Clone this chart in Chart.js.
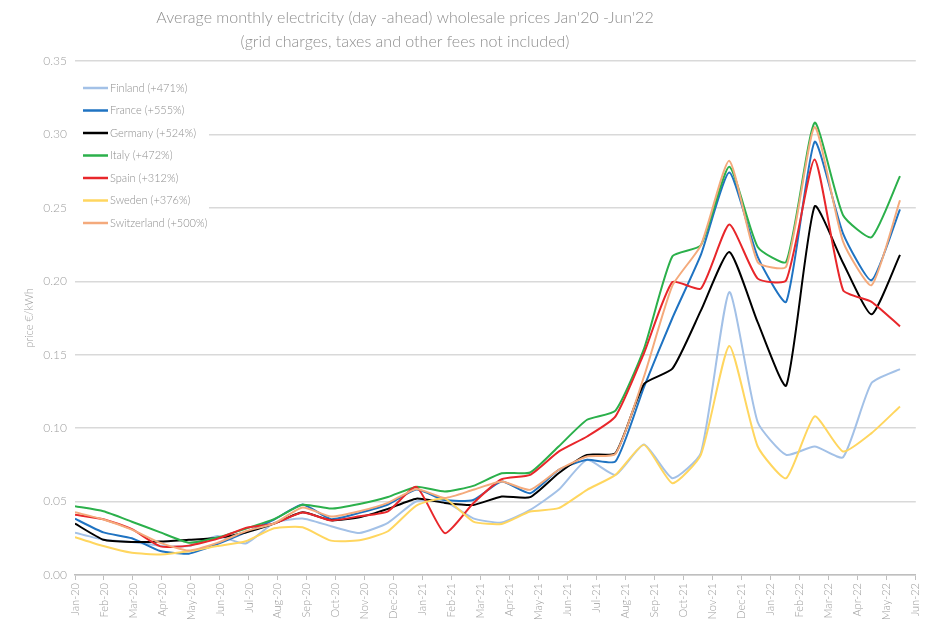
<!DOCTYPE html>
<html><head><meta charset="utf-8">
<script src="https://cdn.jsdelivr.net/npm/chart.js@4/dist/chart.umd.min.js"></script>
<style>html,body{margin:0;padding:0;background:#fff;}#wrap{width:932px;height:619px;}</style>
</head><body><div id="wrap"><canvas id="c" width="932" height="619"></canvas></div>
<script>
const monthLabels = ['Jan-20','Feb-20','Mar-20','Apr-20','May-20','Jun-20','Jul-20','Aug-20','Sep-20','Oct-20','Nov-20','Dec-20','Jan-21','Feb-21','Mar-21','Apr-21','May-21','Jun-21','Jul-21','Aug-21','Sep-21','Oct-21','Nov-21','Dec-21','Jan-22','Feb-22','Mar-22','Apr-22','May-22','Jun-22'];
const seriesNames = ['Finland (+471%)','France (+555%)','Germany (+524%)','Italy (+472%)','Spain (+312%)','Sweden (+376%)','Switzerland (+500%)'];
const finland = [0.0288,0.0240,0.0225,0.0200,0.0197,0.0265,0.0215,0.0355,0.0385,0.0332,0.0286,0.0355,0.0502,0.0500,0.0386,0.0357,0.0443,0.0580,0.0784,0.0682,0.0888,0.0659,0.0830,0.1927,0.1040,0.0818,0.0875,0.0802,0.1307,0.1402];
const france = [0.0383,0.0290,0.0250,0.0163,0.0145,0.0210,0.0290,0.0377,0.0480,0.0380,0.0423,0.0480,0.0582,0.0510,0.0511,0.0636,0.0557,0.0716,0.0784,0.0773,0.1280,0.1750,0.2180,0.2740,0.2166,0.1860,0.2950,0.2325,0.2007,0.2490];
const germany = [0.0350,0.0240,0.0225,0.0228,0.0240,0.0252,0.0290,0.0350,0.0427,0.0372,0.0393,0.0450,0.0520,0.0491,0.0477,0.0534,0.0530,0.0693,0.0818,0.0830,0.1300,0.1405,0.1800,0.2200,0.1720,0.1290,0.2510,0.2125,0.1775,0.2180];
const italy = [0.0468,0.0434,0.0363,0.0290,0.0220,0.0255,0.0315,0.0380,0.0478,0.0452,0.0484,0.0531,0.0600,0.0568,0.0607,0.0693,0.0698,0.0875,0.1057,0.1120,0.1540,0.2170,0.2245,0.2780,0.2234,0.2132,0.3080,0.2450,0.2300,0.2716];
const spain = [0.0410,0.0380,0.0312,0.0195,0.0200,0.0246,0.0321,0.0350,0.0425,0.0372,0.0400,0.0434,0.0600,0.0285,0.0489,0.0652,0.0682,0.0840,0.0943,0.1080,0.1510,0.1995,0.1950,0.2386,0.2018,0.2007,0.2830,0.1940,0.1860,0.1693];
const sweden = [0.0258,0.0197,0.0151,0.0140,0.0162,0.0197,0.0230,0.0318,0.0325,0.0234,0.0236,0.0298,0.0473,0.0520,0.0364,0.0348,0.0432,0.0455,0.0580,0.0682,0.0886,0.0625,0.0818,0.1560,0.0875,0.0659,0.1080,0.0841,0.0966,0.1148];
const switzerland = [0.0427,0.0378,0.0309,0.0219,0.0167,0.0219,0.0298,0.0351,0.0460,0.0398,0.0434,0.0491,0.0586,0.0525,0.0580,0.0636,0.0580,0.0716,0.0807,0.0825,0.1350,0.1970,0.2245,0.2820,0.2130,0.2100,0.3050,0.2270,0.1973,0.2552];
const yTicks = [0, 0.05, 0.10, 0.15, 0.20, 0.25, 0.30, 0.35];

const seriesValues = [finland, france, germany, italy, spain, sweden, switzerland];
const colors = ['#a3c1e7','#1f73c2','#000000','#2bb04b','#e8272b','#ffd65f','#f4aa7c'];
const FONT = "'Lato', 'Liberation Sans', sans-serif";
const GRAY = '#8e8e8e';

const datasets = seriesValues.map((vals, i) => ({
  label: seriesNames[i],
  data: vals.map((v, k) => ({x: k, y: v})),
  borderColor: colors[i],
  backgroundColor: colors[i],
  borderWidth: 2,
  pointRadius: 0,
  tension: 0.18,
  fill: false,
  order: seriesValues.length - 1 - i,
  xAxisID: 'x'
}));

const overlay = {
  id: 'overlay',
  afterDraw(chart) {
    const ctx = chart.ctx;
    const ca = chart.chartArea;
    ctx.save();
    ctx.fillStyle = GRAY;
    ctx.font = "300 16px " + FONT;
    ctx.textAlign = 'center';
    ctx.textBaseline = 'middle';
    ctx.fillText("Average monthly electricity (day -ahead) wholesale prices Jan'20 -Jun'22", 405, 18);
    ctx.fillText("(grid charges, taxes and other fees not included)", 405, 42);
    ctx.fillStyle = '#ffffff';
    ctx.fillRect(ca.left, 74, 134, 160);
    ctx.font = "300 11px " + FONT;
    ctx.textAlign = 'left';
    seriesNames.forEach((name, i) => {
      const y = 88 + i * 22.5;
      ctx.strokeStyle = colors[i];
      ctx.lineWidth = 2.5;
      ctx.beginPath();
      ctx.moveTo(83, y);
      ctx.lineTo(108, y);
      ctx.stroke();
      ctx.fillStyle = GRAY;
      ctx.fillText(name, 110, y);
    });
    ctx.restore();
  }
};

new Chart(document.getElementById('c'), {
  type: 'line',
  data: { datasets },
  plugins: [overlay],
  options: {
    responsive: false,
    animation: false,
    layout: { padding: { top: 61, right: 7, left: 0, bottom: 0 } },
    plugins: { legend: { display: false }, tooltip: { enabled: false }, title: { display: false } },
    scales: {
      x: {
        type: 'linear', display: false, min: 0, max: 29 * 850 / 834
      },
      xLabels: {
        type: 'linear', position: 'bottom', min: 0, max: monthLabels.length - 1,
        afterBuildTicks(scale) { scale.ticks = monthLabels.map((l, i) => ({ value: i })); },
        afterFit(scale) { scale.height = 44; },
        ticks: {
          autoSkip: false, maxRotation: 90, minRotation: 90, padding: 3,
          color: '#9a9a9a', font: { family: FONT, size: 11, weight: 300 },
          callback: (v) => monthLabels[v]
        },
        grid: { drawOnChartArea: false, drawTicks: true, tickLength: 5, color: '#bfbfbf', lineWidth: 1 },
        border: { display: true, color: '#bfbfbf', width: 1.5 }
      },
      y: {
        min: 0, max: 0.35,
        afterBuildTicks(scale) { scale.ticks = yTicks.map(v => ({ value: v })); },
        afterFit(scale) { scale.width = 75; },
        ticks: {
          padding: 8, color: '#a0a0a0', font: { family: FONT, size: 12, weight: 300 },
          callback: (v) => Number(v).toFixed(2)
        },
        grid: { color: '#d9d9d9', lineWidth: 1.5, drawTicks: false },
        border: { display: false },
        title: { display: true, text: 'price €/kWh', color: '#a0a0a0', font: { family: FONT, size: 11, weight: 300 }, padding: { top: 23, bottom: 0 } }
      }
    }
  }
});
</script>
</body></html>
